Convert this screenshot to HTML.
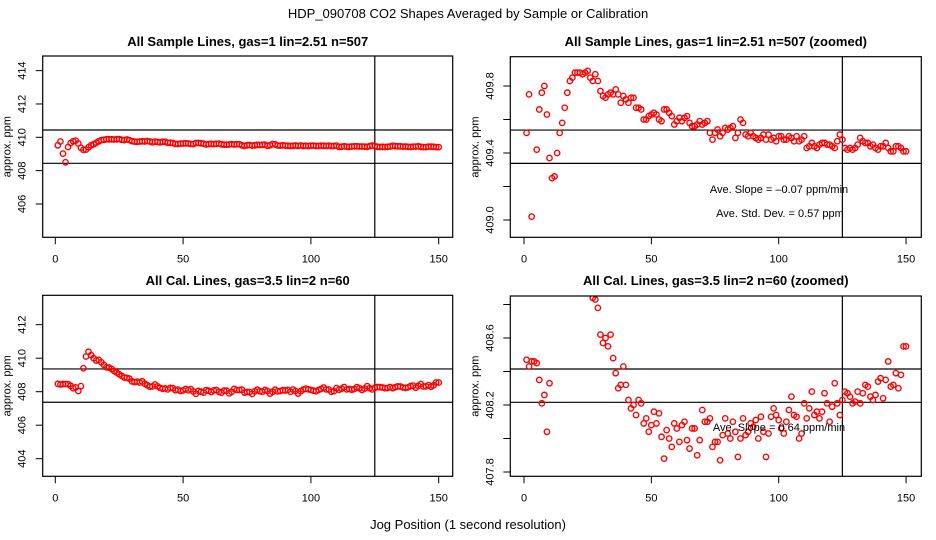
<!DOCTYPE html>
<html><head><meta charset="utf-8"><style>
html,body{margin:0;padding:0;background:#fff;}
svg{display:block;font-family:"Liberation Sans",Arial,sans-serif;}
</style></head><body>
<svg id="chart" width="936" height="540" viewBox="0 0 936 540">
<rect x="0" y="0" width="936" height="540" fill="#fff"/>
<text x="468" y="18" text-anchor="middle" font-size="13">HDP_090708  CO2 Shapes Averaged by Sample or Calibration</text>
<text x="468" y="529" text-anchor="middle" font-size="13">Jog Position (1 second resolution)</text>
<g id="panels"></g>
</svg>
<script>
const xTickLabels = ["0","50","100","150"];
const xTickValues = [0,50,100,150];
const sampleValues = [409.52,409.75,409.02,408.5,409.42,409.66,409.76,409.8,409.63,409.37,
409.25,409.26,409.4,409.52,409.58,409.67,409.76,409.83,409.85,409.88,
409.88,409.88,409.87,409.88,409.89,409.85,409.83,409.87,409.83,409.77,
409.74,409.73,409.75,409.76,409.75,409.78,409.75,409.7,409.74,409.72,
409.7,409.73,409.73,409.67,409.67,409.66,409.6,409.6,409.62,409.63,
409.64,409.63,409.6,409.59,409.66,409.66,409.64,409.62,409.57,409.59,
409.61,409.59,409.61,409.62,409.58,409.56,409.56,409.57,409.59,409.57,
409.58,409.59,409.52,409.48,409.52,409.54,409.5,409.52,409.55,409.54,
409.55,409.56,409.49,409.52,409.6,409.58,409.51,409.5,409.52,409.5,
409.49,409.48,409.49,409.51,409.48,409.51,409.48,409.49,409.47,409.5,
409.5,409.48,409.48,409.5,409.49,409.47,409.5,409.47,409.48,409.5,
409.43,409.44,409.46,409.44,409.43,409.45,409.46,409.46,409.45,409.45,
409.44,409.43,409.47,409.51,409.48,409.43,409.42,409.43,409.42,409.43,
409.45,409.49,409.47,409.46,409.46,409.44,409.45,409.43,409.42,409.44,
409.44,409.46,409.43,409.41,409.41,409.44,409.44,409.43,409.41,409.41];
const calValues = [408.47,408.43,408.46,408.46,408.45,408.35,408.21,408.26,408.04,408.33,
409.4,410.1,410.38,410.18,410.0,409.86,409.9,409.76,409.6,409.46,
409.44,409.36,409.24,409.14,409.04,408.94,408.84,408.83,408.78,408.62,
408.57,408.6,408.55,408.62,408.48,408.39,408.3,408.32,408.43,408.32,
408.23,408.18,408.2,408.14,408.23,408.21,408.09,408.12,408.04,408.08,
408.16,408.09,408.15,408.01,407.88,408.05,408.0,407.95,408.09,408.06,
407.98,408.08,408.1,407.99,407.94,408.06,408.06,407.9,407.99,408.17,
408.1,408.1,408.12,407.95,407.98,407.98,407.87,408.02,408.12,408.03,
408.0,408.1,408.04,407.89,408.0,408.12,408.02,408.04,408.09,408.07,
408.11,408.0,408.13,408.04,407.89,408.03,408.13,408.18,408.14,408.11,
408.06,408.03,408.1,408.17,408.25,408.14,408.13,408.0,408.03,408.21,
408.12,408.18,408.28,408.14,408.16,408.12,408.16,408.27,408.21,408.1,
408.19,408.33,408.21,408.14,408.23,408.28,408.27,408.25,408.21,408.22,
408.28,408.21,408.27,408.32,408.31,408.25,408.23,408.26,408.34,408.36,
408.24,408.35,408.46,408.31,408.32,408.39,408.3,408.38,408.55,408.55];
const p1Ticks = [406,408,410,412,414];
const p1TickLabels = ["406","408","410","412","414"];
const p1HLines = [410.44,408.44];
const p2Ticks = [409.0,409.2,409.4,409.6,409.8];
const p2TickLabels = ["409.0","","409.4","","409.8"];
const p2HLines = [409.537,409.338];
const p3Ticks = [404,406,408,410,412];
const p3TickLabels = ["404","406","408","410","412"];
const p3HLines = [409.36,407.37];
const p4Ticks = [407.8,408.0,408.2,408.4,408.6,408.8];
const p4TickLabels = ["407.8","","408.2","","408.6",""];
const p4HLines = [408.415,408.216];
const vLineX = [125];

const NS="http://www.w3.org/2000/svg";
const root=document.getElementById('panels');
function mk(tag,attrs,parent){const e=document.createElementNS(NS,tag);for(const k in attrs)e.setAttribute(k,attrs[k]);(parent||root).appendChild(e);return e;}

const panels=[
 {key:'sample-full',title:'All Sample Lines, gas=1 lin=2.51 n=507',L:42.7,R:452.7,T:56,B:237.3,x0:55.3,xs:2.556,yv:410,yp:137.3,ys:16.67,ticks:p1Ticks,labels:p1TickLabels,h:p1HLines,data:sampleValues,ty:46,notes:[]},
 {key:'sample-zoomed',title:'All Sample Lines, gas=1 lin=2.51 n=507 (zoomed)',L:510.3,R:921.3,T:56.7,B:237.3,x0:524,xs:2.547,yv:409.8,yp:86,ys:167.5,ticks:p2Ticks,labels:p2TickLabels,h:p2HLines,data:sampleValues,ty:46,notes:[["Ave. Slope =  \u20130.07  ppm/min",779,193,'slope-annotation'],["Ave. Std. Dev. =  0.57  ppm",780,217,'std-dev-annotation']]},
 {key:'cal-full',title:'All Cal. Lines, gas=3.5 lin=2 n=60',L:42.7,R:452.7,T:295.3,B:476.3,x0:55.3,xs:2.556,yv:410,yp:358.2,ys:16.75,ticks:p3Ticks,labels:p3TickLabels,h:p3HLines,data:calValues,ty:285,notes:[]},
 {key:'cal-zoomed',title:'All Cal. Lines, gas=3.5 lin=2 n=60 (zoomed)',L:510.3,R:921.3,T:296,B:476.3,x0:524,xs:2.547,yv:408.6,yp:338,ys:167.5,ticks:p4Ticks,labels:p4TickLabels,h:p4HLines,data:calValues,ty:285,notes:[["Ave. Slope =  0.64  ppm/min",779,431,'slope-annotation']]}
];

panels.forEach((p,i)=>{
 const g=mk('g',{});
 
 
 const X=v=>p.x0+v*p.xs, Y=v=>p.yp-(v-p.yv)*p.ys;
 const cp=mk('clipPath',{id:'clip'+i},g);
 mk('rect',{x:p.L,y:p.T,width:p.R-p.L,height:p.B-p.T},cp);
 const t=mk('text',{x:(p.L+p.R)/2,y:p.ty,'text-anchor':'middle','font-size':13,'font-weight':'bold'},g);
 t.textContent=p.title;
 
 
 // y axis
 p.ticks.forEach((v,j)=>{
  const y=Y(v);
  const tk=mk('line',{x1:p.L-7,x2:p.L,y1:y,y2:y,stroke:'#000','stroke-width':1},g);
  
  
  if(p.labels[j]){
   const lx=p.L-17;
   const tl=mk('text',{x:lx,y:y,'text-anchor':'middle','font-size':11,transform:`rotate(-90 ${lx} ${y})`},g);
   tl.textContent=p.labels[j];
   
   
  }
 });
 const ax=p.L-32, ay=(p.T+p.B)/2;
 const yt=mk('text',{x:ax,y:ay,'text-anchor':'middle','font-size':11,transform:`rotate(-90 ${ax} ${ay})`},g);
 yt.textContent='approx. ppm';
 
 
 // x axis
 xTickValues.forEach((v,j)=>{
  const x=X(v);
  const tk=mk('line',{x1:x,x2:x,y1:p.B,y2:p.B+7,stroke:'#000','stroke-width':1},g);
  
  
  const tl=mk('text',{x:x,y:p.B+25,'text-anchor':'middle','font-size':11},g);
  tl.textContent=xTickLabels[j];
  
  
 });
 const inner=mk('g',{'clip-path':`url(#clip${i})`},g);
 p.h.forEach(v=>{
  const l=mk('line',{x1:p.L,x2:p.R,y1:Y(v),y2:Y(v),stroke:'#000','stroke-width':1.2},inner);
  
  
 });
 vLineX.forEach(v=>{
  const l=mk('line',{x1:X(v),x2:X(v),y1:p.T,y2:p.B,stroke:'#000','stroke-width':1.2},inner);
  
  
 });
 p.data.forEach((v,j)=>{
  const c=mk('circle',{cx:X(j+1),cy:Y(v),r:2.7,fill:'none',stroke:'#ff0000','stroke-width':1.4},inner);
  
  
 });
 p.notes.forEach(n=>{
  const tx=mk('text',{x:n[1],y:n[2],'text-anchor':'middle','font-size':11},g);
  tx.textContent=n[0];
  
  
 });
 const b=mk('rect',{x:p.L,y:p.T,width:p.R-p.L,height:p.B-p.T,fill:'none',stroke:'#000','stroke-width':1.2},g);
 
 
});
</script>
</body></html>
